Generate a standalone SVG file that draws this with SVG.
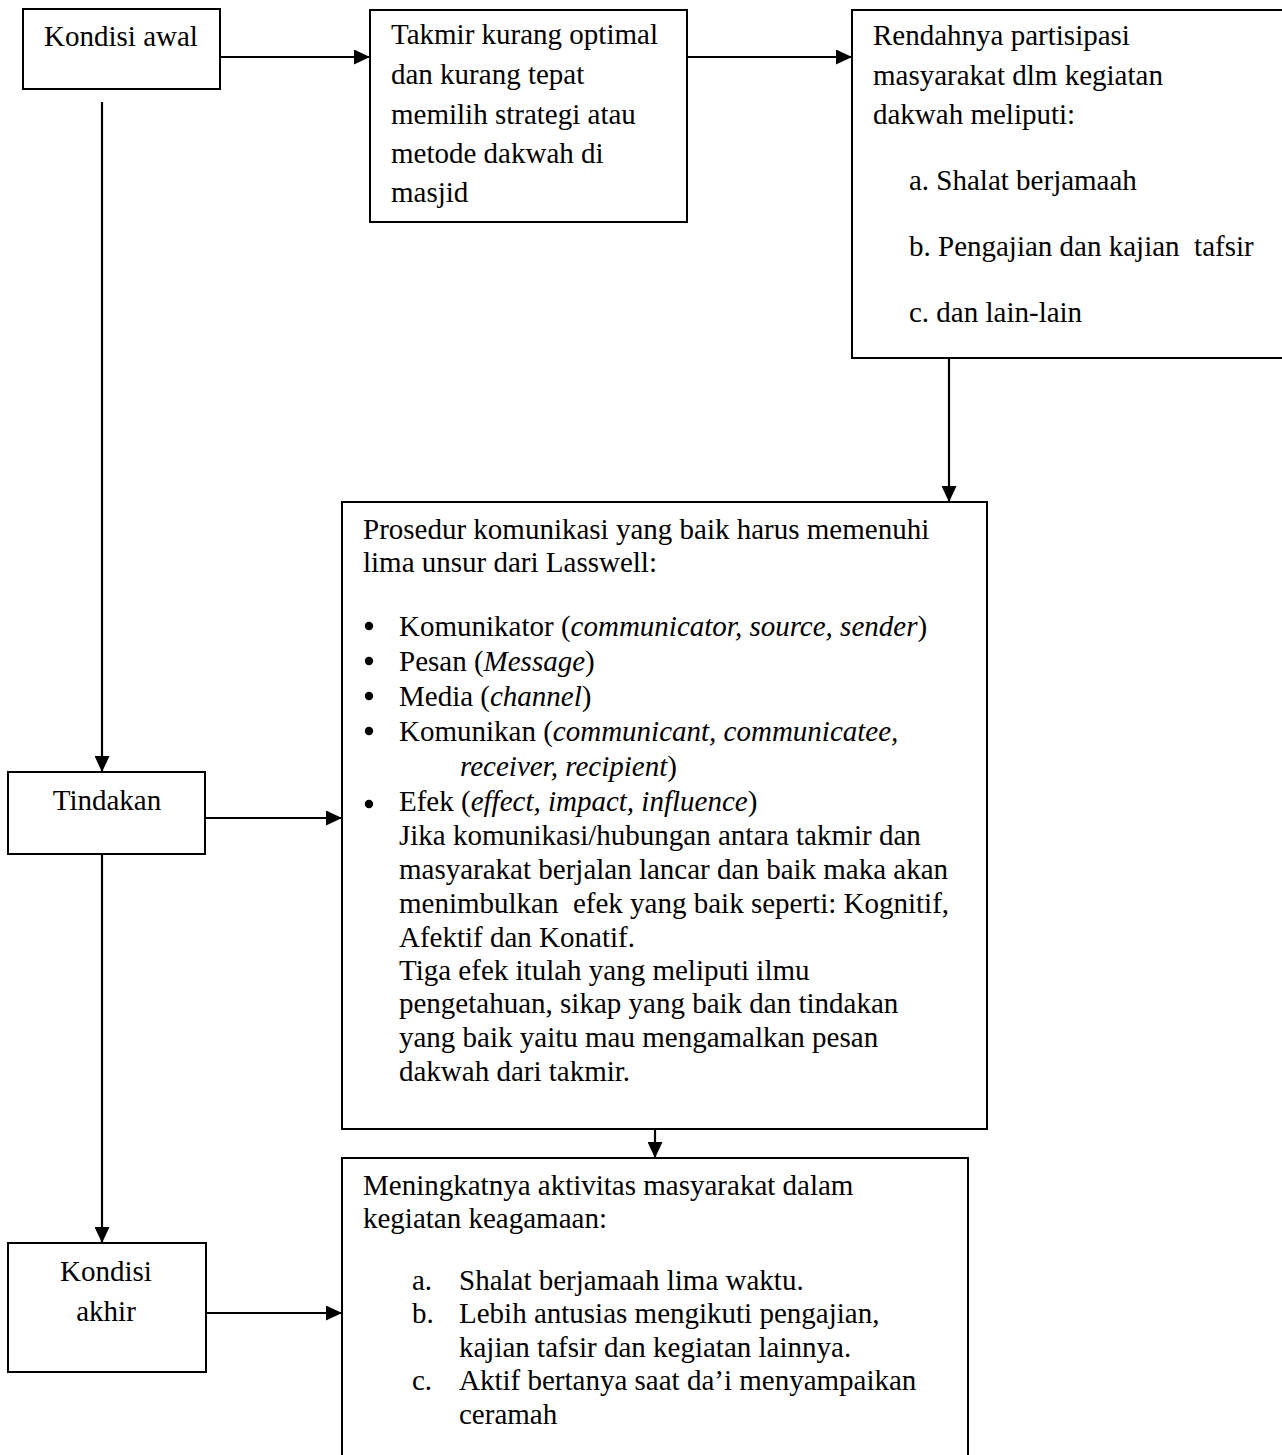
<svg xmlns="http://www.w3.org/2000/svg" width="1282" height="1455" viewBox="0 0 1282 1455">
<defs>
<marker id="ah" markerWidth="16" markerHeight="15" refX="16" refY="7.5" orient="auto" markerUnits="userSpaceOnUse">
<path d="M0,0 L16,7.5 L0,15 Z" fill="#000"/>
</marker>
<style>
.box{fill:#fff;stroke:#000;stroke-width:2}
.t{font-size:29px;fill:#000}
.c{text-anchor:middle}
.i{font-style:italic}
.ln{stroke:#000;stroke-width:2.2;fill:none}
</style>
</defs>
<rect width="1282" height="1455" fill="#fff"/>

<g id="connectors">
<line class="ln" x1="220" y1="57" x2="370" y2="57" marker-end="url(#ah)"/>
<line class="ln" x1="687" y1="57" x2="852" y2="57" marker-end="url(#ah)"/>
<line class="ln" x1="949" y1="358" x2="949" y2="502" marker-end="url(#ah)"/>
<line class="ln" x1="102" y1="102" x2="102" y2="772" marker-end="url(#ah)"/>
<line class="ln" x1="205" y1="818" x2="342" y2="818" marker-end="url(#ah)"/>
<line class="ln" x1="102" y1="854" x2="102" y2="1243" marker-end="url(#ah)"/>
<line class="ln" x1="206" y1="1313" x2="342" y2="1313" marker-end="url(#ah)"/>
<line class="ln" x1="655" y1="1129" x2="655" y2="1158" marker-end="url(#ah)"/>
</g>

<g font-family="Liberation Serif, Tinos, Times New Roman, serif">
<g id="kondisi-awal">
<rect class="box" x="23" y="9" width="197" height="80"/>
<text class="t c" x="121" y="46">Kondisi awal</text>
</g>

<g id="takmir">
<rect class="box" x="370" y="10" width="317" height="212"/>
<text class="t" x="391" y="44">Takmir kurang optimal</text>
<text class="t" x="391" y="84">dan kurang tepat</text>
<text class="t" x="391" y="124">memilih strategi atau</text>
<text class="t" x="391" y="163">metode dakwah di</text>
<text class="t" x="391" y="202">masjid</text>
</g>

<g id="rendahnya">
<rect class="box" x="852" y="10" width="460" height="348"/>
<text class="t" x="873" y="45">Rendahnya partisipasi</text>
<text class="t" x="873" y="85">masyarakat dlm kegiatan</text>
<text class="t" x="873" y="124">dakwah meliputi:</text>
<text class="t" x="909" y="190">a. Shalat berjamaah</text>
<text class="t" x="909" y="256" xml:space="preserve">b. Pengajian dan kajian  tafsir</text>
<text class="t" x="909" y="322">c. dan lain-lain</text>
</g>

<g id="tindakan">
<rect class="box" x="8" y="772" width="197" height="82"/>
<text class="t c" x="107" y="810">Tindakan</text>
</g>

<g id="prosedur">
<rect class="box" x="342" y="502" width="645" height="627"/>
<text class="t" x="363" y="539">Prosedur komunikasi yang baik harus memenuhi</text>
<text class="t" x="363" y="572">lima unsur dari Lasswell:</text>
<circle cx="369" cy="626" r="4.2"/>
<text class="t" x="399" y="636">Komunikator (<tspan class="i">communicator, source, sender</tspan>)</text>
<circle cx="369" cy="661" r="4.2"/>
<text class="t" x="399" y="671">Pesan (<tspan class="i">Message</tspan>)</text>
<circle cx="369" cy="696" r="4.2"/>
<text class="t" x="399" y="706">Media (<tspan class="i">channel</tspan>)</text>
<circle cx="369" cy="731" r="4.2"/>
<text class="t" x="399" y="741">Komunikan (<tspan class="i">communicant, communicatee,</tspan></text>
<text class="t" x="460" y="776"><tspan class="i">receiver, recipient</tspan>)</text>
<circle cx="369" cy="804" r="4.2"/>
<text class="t" x="399" y="811">Efek (<tspan class="i">effect, impact, influence</tspan>)</text>
<text class="t" x="399" y="845">Jika komunikasi/hubungan antara takmir dan</text>
<text class="t" x="399" y="879">masyarakat berjalan lancar dan baik maka akan</text>
<text class="t" x="399" y="913" xml:space="preserve">menimbulkan  efek yang baik seperti: Kognitif,</text>
<text class="t" x="399" y="947">Afektif dan Konatif.</text>
<text class="t" x="399" y="980">Tiga efek itulah yang meliputi ilmu</text>
<text class="t" x="399" y="1013">pengetahuan, sikap yang baik dan tindakan</text>
<text class="t" x="399" y="1047">yang baik yaitu mau mengamalkan pesan</text>
<text class="t" x="399" y="1081">dakwah dari takmir.</text>
</g>

<g id="kondisi-akhir">
<rect class="box" x="8" y="1243" width="198" height="129"/>
<text class="t c" x="106" y="1281">Kondisi</text>
<text class="t c" x="106" y="1321">akhir</text>
</g>

<g id="meningkatnya">
<rect class="box" x="342" y="1158" width="626" height="320"/>
<text class="t" x="363" y="1195">Meningkatnya aktivitas masyarakat dalam</text>
<text class="t" x="363" y="1228">kegiatan keagamaan:</text>
<text class="t" x="412" y="1290">a.</text>
<text class="t" x="459" y="1290">Shalat berjamaah lima waktu.</text>
<text class="t" x="412" y="1323">b.</text>
<text class="t" x="459" y="1323">Lebih antusias mengikuti pengajian,</text>
<text class="t" x="459" y="1357">kajian tafsir dan kegiatan lainnya.</text>
<text class="t" x="412" y="1390">c.</text>
<text class="t" x="459" y="1390">Aktif bertanya saat da’i menyampaikan</text>
<text class="t" x="459" y="1424">ceramah</text>
</g>
</g>
</svg>
